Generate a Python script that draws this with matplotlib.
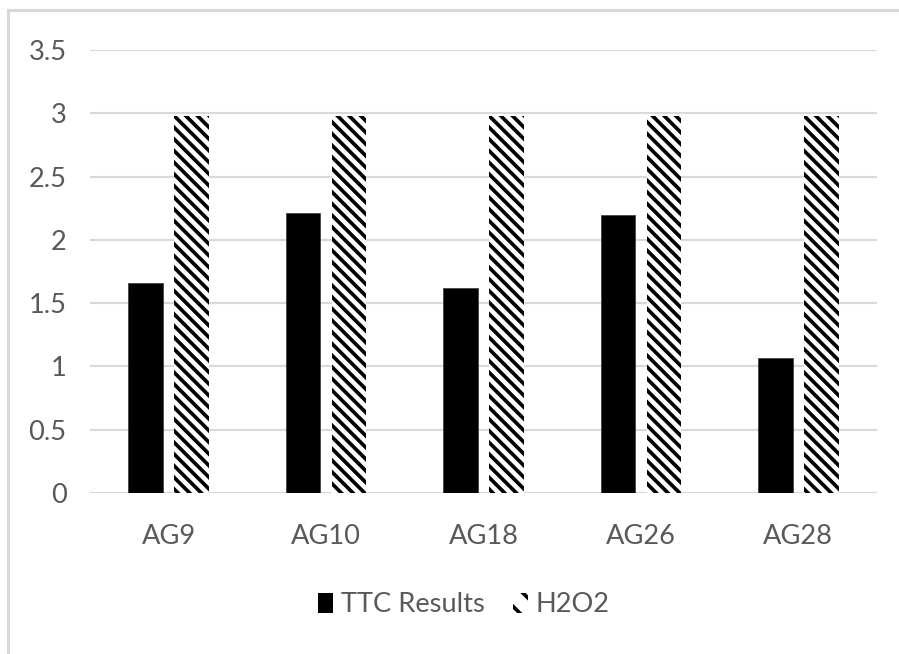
import matplotlib
matplotlib.use('agg')

import matplotlib.pyplot as plt
from matplotlib import font_manager
from matplotlib.patches import Rectangle
from matplotlib.lines import Line2D
import numpy as np

categories = ['AG9', 'AG10', 'AG18', 'AG26', 'AG28']
ttc = [1.66, 2.21, 1.62, 2.20, 1.07]
h2o2 = [2.98, 2.98, 2.98, 2.98, 2.98]
series_names = ['TTC Results', 'H2O2']

# pick a narrow Calibri-like face if present
names = set(f.name for f in font_manager.fontManager.ttflist)
fam = 'Liberation Sans Narrow' if 'Liberation Sans Narrow' in names else 'Lato'
plt.rcParams['font.family'] = fam
plt.rcParams['hatch.linewidth'] = 1.9

HATCH = chr(92) * 4   # backslashes -> dense NW diagonal

grey = '#595959'
fs = 14
dpi = 140
fig = plt.figure(figsize=(899 / dpi, 654 / dpi), dpi=dpi)
ax = fig.add_axes([90 / 899, 1 - 493 / 654, 787 / 899, 443 / 654])

x = np.arange(len(categories))
w = 0.22
ax.bar(x - 0.146, ttc, w, color='black', edgecolor='#404040', linewidth=0.4, zorder=3)
ax.bar(x + 0.146, h2o2, w, facecolor='white', edgecolor='black', linewidth=0,
       hatch=HATCH, zorder=3)

ax.set_xlim(-0.5, len(categories) - 0.5)
ax.set_ylim(0, 3.5)
ax.set_yticks(np.arange(0, 3.51, 0.5))
ax.set_yticklabels(['0', '0.5', '1', '1.5', '2', '2.5', '3', '3.5'])
ax.set_xticks(x)
ax.set_xticklabels(categories)
ax.yaxis.grid(True, color='#d9d9d9', linewidth=1.1, zorder=0)
ax.set_axisbelow(True)
for s in ax.spines.values():
    s.set_visible(False)
ax.tick_params(axis='y', length=0, pad=12, labelsize=fs, labelcolor=grey)
ax.tick_params(axis='x', length=0, pad=16, labelsize=fs, labelcolor=grey)

handles = [Rectangle((0, 0), 1, 1, facecolor='black', edgecolor='black', linewidth=0),
           Rectangle((0, 0), 1, 1, facecolor='white', edgecolor='black', linewidth=0,
                     hatch=chr(92) * 2)]
fig.legend(handles, series_names, loc='center', bbox_to_anchor=(464 / 899, 1 - 605 / 654),
           ncol=2, frameon=False, fontsize=fs, labelcolor=grey,
           handlelength=0.55, handleheight=0.7, handletextpad=0.3, columnspacing=1.0)

# outer chart border (left and top edges visible)
fig.add_artist(Line2D([8 / 899, 8 / 899], [0, 1 - 10 / 654], color='#d9d9d9',
                      linewidth=1.6, transform=fig.transFigure))
fig.add_artist(Line2D([8 / 899, 1], [1 - 10 / 654, 1 - 10 / 654], color='#d9d9d9',
                      linewidth=1.6, transform=fig.transFigure))

fig.savefig('out.png', dpi=dpi)
